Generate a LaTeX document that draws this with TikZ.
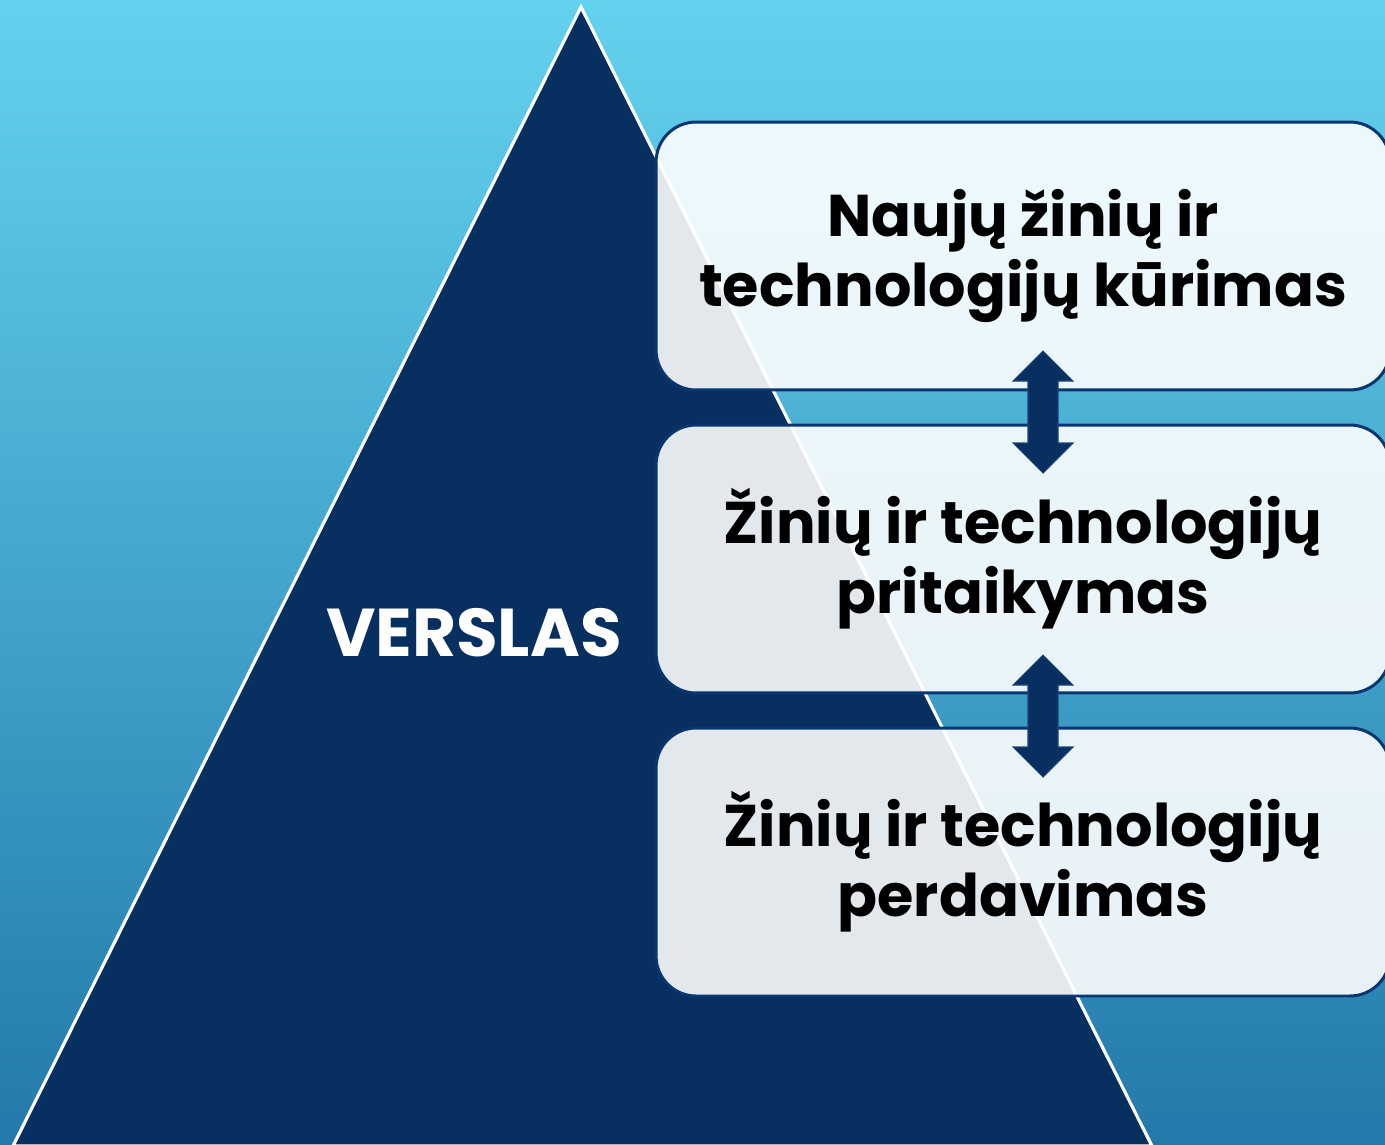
\documentclass[tikz,border=0pt]{standalone}
\usepackage{fontspec}
\setmainfont{Poppins}[UprightFont=* Bold]
\usetikzlibrary{positioning}

\definecolor{skytop}{HTML}{63D2EE}
\definecolor{skybot}{HTML}{2379AB}
\definecolor{navy}{HTML}{072F60}
\definecolor{navyline}{HTML}{0A3670}
\definecolor{arrline}{HTML}{1B4478}

\tikzset{
  stagebox/.style={draw=navyline, line width=1.7pt, fill=white, fill opacity=0.89,
    text opacity=1, rounded corners=0.8cm, minimum width=14.68cm, minimum height=5.36cm,
    align=center, font=\fontsize{33.5}{40}\selectfont, text=black},
  dblarr/.style={fill=navy, draw=arrline, line width=0.6pt}
}

\begin{document}
\begin{tikzpicture}[x=0.02cm,y=-0.02cm]
        \useasboundingbox (0,0) rectangle (1385,1144);
        \clip (0,0) rectangle (1385,1144);

        % background
        \shade[top color=skytop, bottom color=skybot] (0,0) rectangle (1385,1144);

        % pyramid
        \draw[fill=navy, draw=white, line width=1.8pt] (581,7) -- (1152,1146) -- (13,1146) -- cycle;
        \node[text=white, font=\fontsize{38.5}{44}\selectfont] (verslas) at (474,633) {VERSLAS};

        % stages
        \node[stagebox] (create) at (1023,256) {Naujų žinių ir\\technologijų kūrimas};
        \node[stagebox] (adapt) at (1023,559) {Žinių ir technologijų\\pritaikymas};
        \node[stagebox] (transfer) at (1023,862) {Žinių ir technologijų\\perdavimas};

        % arrows between stages
        \foreach \y in {351,655}{
          \draw[dblarr] (1043,\y) -- (1073,\y+30) -- (1058,\y+30) -- (1058,\y+92) -- (1073,\y+92)
            -- (1043,\y+122) -- (1013,\y+92) -- (1028,\y+92) -- (1028,\y+30) -- (1013,\y+30) -- cycle;
        }
\end{tikzpicture}
\end{document}
